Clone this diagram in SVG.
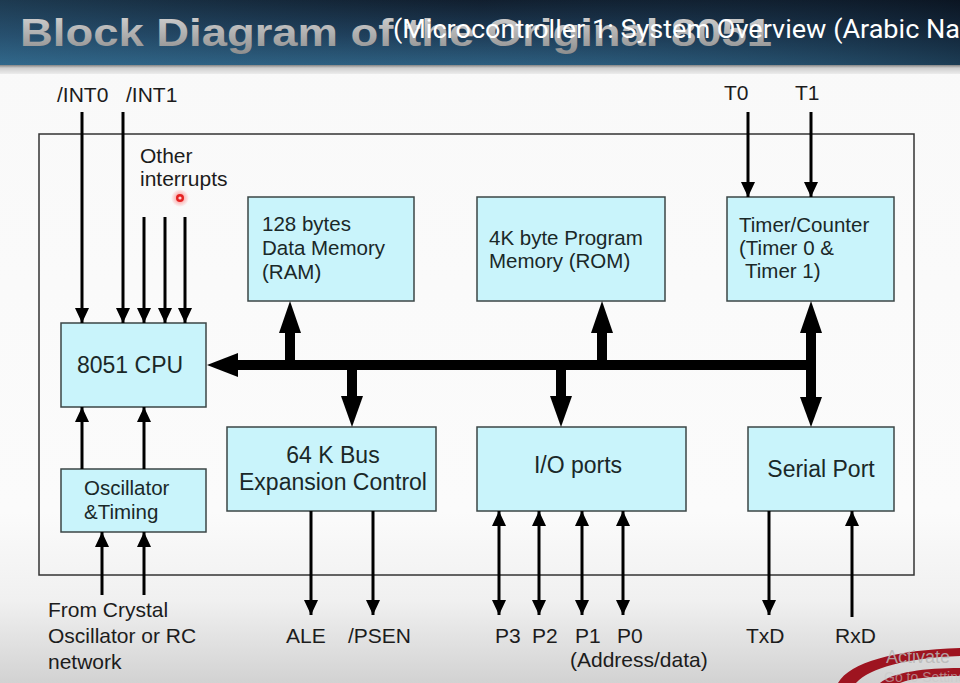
<svg xmlns="http://www.w3.org/2000/svg" width="960" height="683" viewBox="0 0 960 683">
  <defs>
    <linearGradient id="hdr" x1="0" y1="0" x2="0" y2="1">
      <stop offset="0" stop-color="#0e1826"/>
      <stop offset="0.55" stop-color="#1d3a55"/>
      <stop offset="1" stop-color="#2d5f80"/>
    </linearGradient>
    <linearGradient id="hdrH" x1="0" y1="0" x2="1" y2="0">
      <stop offset="0" stop-color="#3a7aa0" stop-opacity="0.35"/>
      <stop offset="0.5" stop-color="#2a5a7a" stop-opacity="0.1"/>
      <stop offset="1" stop-color="#08121e" stop-opacity="0.45"/>
    </linearGradient>
    <linearGradient id="shadow" x1="0" y1="0" x2="0" y2="1">
      <stop offset="0" stop-color="#6a6a6a"/>
      <stop offset="0.4" stop-color="#cfcfcf"/>
      <stop offset="1" stop-color="#ececec"/>
    </linearGradient>
    <linearGradient id="slide" x1="0" y1="0" x2="0" y2="1">
      <stop offset="0" stop-color="#ececec"/>
      <stop offset="0.08" stop-color="#f9f9f9"/>
      <stop offset="0.75" stop-color="#fbfbfb"/>
      <stop offset="0.88" stop-color="#f0f0f0"/>
      <stop offset="1" stop-color="#d2d2d2"/>
    </linearGradient>
    <linearGradient id="title" x1="0" y1="0" x2="0" y2="1">
      <stop offset="0" stop-color="#d6d6d6"/>
      <stop offset="1" stop-color="#8e8e8e"/>
    </linearGradient>
    <radialGradient id="glow">
      <stop offset="0" stop-color="#ff3030" stop-opacity="0.6"/>
      <stop offset="1" stop-color="#ff3030" stop-opacity="0"/>
    </radialGradient>
    <marker id="ah" viewBox="0 0 14 15" refX="14" refY="7.5" markerWidth="14" markerHeight="15" markerUnits="userSpaceOnUse" orient="auto-start-reverse">
      <path d="M0,0 L15,7.5 L0,15 z" fill="#000"/>
    </marker>
    <marker id="ah2" viewBox="0 0 15 14" refX="15" refY="7" markerWidth="15" markerHeight="14" markerUnits="userSpaceOnUse" orient="auto-start-reverse">
      <path d="M0,0 L15,7 L0,14 z" fill="#000"/>
    </marker>
  </defs>
  <style>
    .box { fill: #c9f4fb; stroke: #3b4646; stroke-width: 1.5; }
    .lbl { font-family: "Liberation Sans", Arial, sans-serif; font-size: 21px; fill: #1c1c1c; }
    .bt { font-family: "Liberation Sans", Arial, sans-serif; font-size: 20.5px; fill: #1a2828; }
    .bt2 { font-family: "Liberation Sans", Arial, sans-serif; font-size: 23px; fill: #1a2828; }
    .thin { stroke: #000; stroke-width: 3; fill: none; marker-end: url(#ah2); }
    .dbl { stroke: #000; stroke-width: 3; fill: none; marker-end: url(#ah2); marker-start: url(#ah2); }
    .bus { fill: #000; }
  </style>

  <!-- background -->
  <rect x="0" y="0" width="960" height="683" fill="url(#slide)"/>
  <rect x="0" y="64" width="960" height="10" fill="url(#shadow)"/>
  <rect x="0" y="0" width="960" height="65" fill="url(#hdr)"/>
  <rect x="0" y="0" width="960" height="65" fill="url(#hdrH)"/>
  <text x="20" y="46" font-family="Liberation Sans, Arial, sans-serif" font-weight="bold" font-size="39" fill="url(#title)" textLength="752" lengthAdjust="spacingAndGlyphs">Block Diagram of the Original 8051</text>
  <text x="393" y="38" font-family="Roboto, 'Liberation Sans', sans-serif" font-size="25" fill="#ffffff" textLength="567" lengthAdjust="spacingAndGlyphs">(Microcontroller 1: System Overview (Arabic Na</text>

  <!-- outer chip boundary -->
  <rect id="chip" x="39" y="134" width="875" height="441" fill="none" stroke="#333" stroke-width="1.5"/>

  <!-- nodes -->
  <g id="cpu">
    <rect class="box" x="61" y="323" width="145" height="84"/>
    <text class="bt2" x="77" y="373">8051 CPU</text>
  </g>
  <g id="osc">
    <rect class="box" x="61" y="469" width="145" height="63"/>
    <text class="bt" x="84" y="495">Oscillator</text>
    <text class="bt" x="84" y="519">&amp;Timing</text>
  </g>
  <g id="ram">
    <rect class="box" x="248" y="197" width="166" height="104"/>
    <text class="bt" x="262" y="231">128 bytes</text>
    <text class="bt" x="262" y="255">Data Memory</text>
    <text class="bt" x="262" y="279">(RAM)</text>
  </g>
  <g id="rom">
    <rect class="box" x="477" y="197" width="188" height="104"/>
    <text class="bt" x="489" y="245">4K byte Program</text>
    <text class="bt" x="489" y="268">Memory (ROM)</text>
  </g>
  <g id="timer">
    <rect class="box" x="727" y="197" width="167" height="104"/>
    <text class="bt" x="739" y="232">Timer/Counter</text>
    <text class="bt" x="739" y="255">(Timer 0 &amp;</text>
    <text class="bt" x="745" y="278">Timer 1)</text>
  </g>
  <g id="busctl">
    <rect class="box" x="227" y="427" width="209" height="84"/>
    <text class="bt2" x="333" y="463" text-anchor="middle">64 K Bus</text>
    <text class="bt2" x="333" y="490" text-anchor="middle">Expansion Control</text>
  </g>
  <g id="io">
    <rect class="box" x="477" y="427" width="209" height="84"/>
    <text class="bt2" x="578" y="473" text-anchor="middle">I/O ports</text>
  </g>
  <g id="serial">
    <rect class="box" x="748" y="427" width="146" height="84"/>
    <text class="bt2" x="821" y="477" text-anchor="middle">Serial Port</text>
  </g>

  <!-- external labels -->
  <g id="labels">
    <text class="lbl" x="57" y="102">/INT0</text>
    <text class="lbl" x="126" y="102">/INT1</text>
    <text class="lbl" x="140" y="163" font-size="20">Other</text>
    <text class="lbl" x="140" y="186" font-size="20">interrupts</text>
    <text class="lbl" x="724" y="100" font-size="20">T0</text>
    <text class="lbl" x="795" y="100" font-size="20">T1</text>
    <text class="lbl" x="48" y="617" font-size="22">From Crystal</text>
    <text class="lbl" x="48" y="643" font-size="22">Oscillator or RC</text>
    <text class="lbl" x="48" y="669" font-size="22">network</text>
    <text class="lbl" x="286" y="643" font-size="20">ALE</text>
    <text class="lbl" x="348" y="643" font-size="20">/PSEN</text>
    <text class="lbl" x="495" y="643" font-size="20">P3</text>
    <text class="lbl" x="532" y="643" font-size="20">P2</text>
    <text class="lbl" x="575" y="643" font-size="20">P1</text>
    <text class="lbl" x="617" y="643" font-size="20">P0</text>
    <text class="lbl" x="570" y="667" font-size="20.5">(Address/data)</text>
    <text class="lbl" x="746" y="643" font-size="20">TxD</text>
    <text class="lbl" x="835" y="643" font-size="20">RxD</text>
  </g>

  <!-- connectors -->
  <g id="connectors">
    <!-- internal bus -->
    <rect class="bus" x="236" y="360" width="580" height="10"/>
    <polygon class="bus" points="207,365 238,353 238,377"/>
    <!-- RAM -->
    <rect class="bus" x="285" y="332" width="10" height="33"/>
    <polygon class="bus" points="290,301 279,333 301,333"/>
    <!-- ROM -->
    <rect class="bus" x="597" y="332" width="10" height="33"/>
    <polygon class="bus" points="602,301 591,333 613,333"/>
    <!-- bus expansion -->
    <rect class="bus" x="347" y="365" width="10" height="32"/>
    <polygon class="bus" points="341,396 363,396 352,427"/>
    <!-- I/O -->
    <rect class="bus" x="556" y="365" width="10" height="32"/>
    <polygon class="bus" points="550,396 572,396 561,427"/>
    <!-- timer / serial -->
    <rect class="bus" x="806" y="332" width="10" height="66"/>
    <polygon class="bus" points="811,301 800,333 822,333"/>
    <polygon class="bus" points="800,397 822,397 811,427"/>

    <!-- interrupts -->
    <line class="thin" x1="82" y1="112" x2="82" y2="323"/>
    <line class="thin" x1="123" y1="112" x2="123" y2="323"/>
    <line class="thin" x1="144" y1="217" x2="144" y2="323"/>
    <line class="thin" x1="165" y1="217" x2="165" y2="323"/>
    <line class="thin" x1="185" y1="217" x2="185" y2="323"/>
    <!-- timer inputs -->
    <line class="thin" x1="748" y1="112" x2="748" y2="197"/>
    <line class="thin" x1="811" y1="112" x2="811" y2="197"/>
    <!-- oscillator -->
    <line class="thin" x1="82" y1="469" x2="82" y2="407"/>
    <line class="thin" x1="144" y1="469" x2="144" y2="407"/>
    <line class="thin" x1="102" y1="595" x2="102" y2="532"/>
    <line class="thin" x1="144" y1="595" x2="144" y2="532"/>
    <!-- bus control outputs -->
    <line class="thin" x1="311" y1="511" x2="311" y2="615"/>
    <line class="thin" x1="373" y1="511" x2="373" y2="615"/>
    <!-- ports -->
    <line class="dbl" x1="499" y1="511" x2="499" y2="615"/>
    <line class="dbl" x1="539" y1="511" x2="539" y2="615"/>
    <line class="dbl" x1="582" y1="511" x2="582" y2="615"/>
    <line class="dbl" x1="623" y1="511" x2="623" y2="615"/>
    <!-- serial -->
    <line class="thin" x1="769" y1="511" x2="769" y2="615"/>
    <line class="thin" x1="852" y1="617" x2="852" y2="511"/>
  </g>

  <!-- cursor highlight -->
  <circle cx="180" cy="198" r="9" fill="url(#glow)"/>
  <circle cx="180" cy="198" r="4" fill="#e52222"/>
  <circle cx="180" cy="198" r="1.6" fill="#ffd0d0"/>

  <!-- logo swoosh and watermark -->
  <path d="M838,683 C850,662 895,650 960,648 L960,656 C905,658 870,668 856,683 Z" fill="#9e1420"/>
  <path d="M880,683 C893,672 925,668 960,668 L960,676 C935,676 912,678 900,683 Z" fill="#9e1420"/>
  <text x="886" y="663" font-family="'Liberation Sans', Arial, sans-serif" font-size="18" fill="#b8b8b8" fill-opacity="0.85">Activate</text>
  <text x="884" y="682" font-family="'Liberation Sans', Arial, sans-serif" font-size="14" fill="#c8c8c8" fill-opacity="0.6">Go to Settings</text>
</svg>
